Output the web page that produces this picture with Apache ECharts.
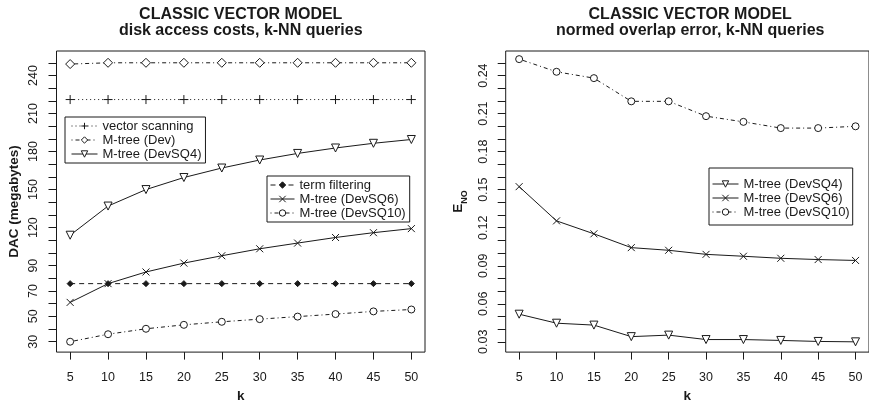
<!DOCTYPE html>
<html>
<head>
<meta charset="utf-8">
<script src="https://cdn.jsdelivr.net/npm/echarts@6/dist/echarts.min.js"></script>
<style>
html,body{margin:0;padding:0;background:#fff;}
#main{width:869px;height:408px;}
</style>
</head>
<body>
<div id="main"></div>
<script>
// ---- data ----
const ks = [5, 10, 15, 20, 25, 30, 35, 40, 45, 50];
const xTicks = [5, 10, 15, 20, 25, 30, 35, 40, 45, 50];

// left chart: DAC (megabytes)
const vectorScanning = [221, 221, 221, 221, 221, 221, 221, 221, 221, 221];
const mtreeDev = [249, 250, 250, 250, 250, 250, 250, 250, 250, 250];
const mtreeDevSQ4 = [114, 137, 150, 159.5, 167, 173.3, 178.5, 182.8, 186.5, 189.5];
const termFiltering = [75.8, 75.8, 75.8, 75.8, 75.8, 75.8, 75.8, 75.8, 75.8, 75.8];
const mtreeDevSQ6 = [61, 75.8, 85, 92, 97.8, 103.3, 107.8, 112.2, 116, 119.2];
const mtreeDevSQ10 = [30, 35.9, 40.2, 43.3, 45.7, 47.8, 49.8, 51.8, 53.9, 55.4];
const leftTicks = [30, 40, 50, 60, 70, 80, 90, 100, 110, 120, 130, 140, 150, 160, 170, 180, 190, 200, 210, 220, 230, 240, 250];
const leftLabels = [30, 50, 70, 90, 120, 150, 180, 210, 240];

// right chart: normed overlap error
const enoDevSQ4 = [0.0518, 0.0447, 0.0432, 0.0341, 0.0353, 0.0318, 0.0318, 0.0311, 0.0303, 0.0300];
const enoDevSQ6 = [0.1524, 0.1254, 0.1152, 0.1043, 0.1022, 0.0990, 0.0975, 0.0959, 0.0949, 0.0942];
const enoDevSQ10 = [0.253, 0.243, 0.238, 0.2197, 0.2197, 0.208, 0.2035, 0.1986, 0.1986, 0.200];
const rightTicks = [0.03, 0.04, 0.05, 0.06, 0.07, 0.08, 0.09, 0.10, 0.11, 0.12, 0.13, 0.14, 0.15, 0.16, 0.17, 0.18, 0.19, 0.20, 0.21, 0.22, 0.23, 0.24, 0.25];
const rightLabels = [0.03, 0.06, 0.09, 0.12, 0.15, 0.18, 0.21, 0.24];

// ---- styles ----
const FONT = '"Liberation Sans", Arial, Helvetica, sans-serif';
const INK = '#1a1a1a';
const pairs = (ys) => ks.map((k, i) => [k, ys[i]]);

const SYM = {
  plus: 'path://M5,0L5,10M0,5L10,5',
  cross: 'path://M0,0L10,10M0,10L10,0'
};

function mkSeries(name, data, idx, opts) {
  return {
    type: 'line',
    name: name,
    xAxisIndex: idx,
    yAxisIndex: idx,
    data: pairs(data),
    showAllSymbol: true,
    symbol: opts.symbol,
    symbolSize: opts.size,
    symbolRotate: opts.rotate || 0,
    lineStyle: { color: INK, width: 1, type: opts.dash || 'solid' },
    itemStyle: { color: opts.fill || '#fff', borderColor: INK, borderWidth: 1 },
    emphasis: { disabled: true },
    z: 3
  };
}

function xAxisCfg(idx) {
  return {
    type: 'value', gridIndex: idx, min: 3.2, max: 51.8,
    name: 'k', nameLocation: 'middle', nameGap: 32,
    nameTextStyle: { fontFamily: FONT, fontWeight: 'bold', fontSize: 13.5, color: INK },
    axisLine: { show: false },
    axisTick: { show: true, length: 7.5, inside: false, customValues: xTicks, lineStyle: { color: INK } },
    axisLabel: { customValues: xTicks, margin: 19, fontFamily: FONT, fontSize: 12.5, color: INK },
    splitLine: { show: false }
  };
}

const legendBase = {
  orient: 'vertical', itemGap: 0, itemHeight: 8, borderColor: INK, borderWidth: 1, borderRadius: 0,
  selectedMode: false, lineStyle: { width: 1 }, itemStyle: { borderWidth: 1 },
  textStyle: { fontFamily: FONT, fontSize: 13, lineHeight: 14, color: INK }
};

const option = {
  animation: false,
  backgroundColor: '#fff',
  title: [
    { text: 'CLASSIC VECTOR MODEL\ndisk access costs, k-NN queries', left: 240.75, top: 7, padding: 0, textAlign: 'center',
      textStyle: { fontFamily: FONT, fontWeight: 'bold', fontSize: 16, lineHeight: 16, color: INK } },
    { text: 'CLASSIC VECTOR MODEL\nnormed overlap error, k-NN queries', left: 690.2, top: 7, padding: 0, textAlign: 'center',
      textStyle: { fontFamily: FONT, fontWeight: 'bold', fontSize: 16, lineHeight: 16, color: INK } }
  ],
  grid: [
    { left: 56.5, top: 51, width: 368.5, height: 312.3, show: true, borderColor: INK, borderWidth: 1, backgroundColor: 'transparent' },
    { left: 505.7, top: 51, width: 369, height: 312.3, show: true, borderColor: INK, borderWidth: 1, backgroundColor: 'transparent' }
  ],
  xAxis: [xAxisCfg(0), xAxisCfg(1)],
  yAxis: [
    {
      type: 'value', gridIndex: 0, min: 21.8, max: 259.3,
      name: 'DAC (megabytes)', nameLocation: 'middle', nameRotate: 90, nameGap: 35,
      nameTextStyle: { fontFamily: FONT, fontWeight: 'bold', fontSize: 13.5, color: INK },
      axisLine: { show: false },
      axisTick: { show: true, length: 8, customValues: leftTicks, lineStyle: { color: INK } },
      axisLabel: { customValues: leftLabels, rotate: 90, margin: 16, fontFamily: FONT, fontSize: 12.5, color: INK },
      splitLine: { show: false }
    },
    {
      type: 'value', gridIndex: 1, min: 0.0219, max: 0.2594,
      name: '{e|E}{s|NO}', nameLocation: 'middle', nameRotate: 90, nameGap: 40,
      nameTextStyle: { fontFamily: FONT, fontWeight: 'bold', color: INK,
        rich: { e: { fontFamily: FONT, fontWeight: 'bold', fontSize: 13.5, color: INK, verticalAlign: 'bottom' },
                s: { fontFamily: FONT, fontWeight: 'bold', fontSize: 9, color: INK, verticalAlign: 'bottom', padding: [0, 0, -3, 0] } } },
      axisLine: { show: false },
      axisTick: { show: true, length: 8, customValues: rightTicks, lineStyle: { color: INK } },
      axisLabel: { customValues: rightLabels, rotate: 90, margin: 16, fontFamily: FONT, fontSize: 12.5, color: INK,
        formatter: (v) => v.toFixed(2) },
      splitLine: { show: false }
    }
  ],
  legend: [
    Object.assign({}, legendBase, { data: ['vector scanning', 'M-tree (Dev)', 'M-tree (DevSQ4)'], left: 65, top: 117,
      padding: [2, 4, 2, 6], itemWidth: 26 }),
    Object.assign({}, legendBase, { data: ['term filtering', 'M-tree (DevSQ6)', 'M-tree (DevSQ10)'], left: 267, top: 176,
      padding: [2, 4, 2, 3], itemWidth: 24 }),
    Object.assign({}, legendBase, { data: ['M-tree (DevSQ4)', 'M-tree (DevSQ6)', 'M-tree (DevSQ10)'], left: 709, top: 168,
      padding: [9, 3, 6, 3], itemWidth: 26 })
  ],
  series: [
    mkSeries('vector scanning', vectorScanning, 0, { symbol: SYM.plus, size: 9, dash: [1, 3] }),
    mkSeries('M-tree (Dev)', mtreeDev, 0, { symbol: 'diamond', size: 9, dash: [1, 3, 4, 3] }),
    mkSeries('M-tree (DevSQ4)', mtreeDevSQ4, 0, { symbol: 'triangle', size: 8, rotate: 180 }),
    mkSeries('term filtering', termFiltering, 0, { symbol: 'diamond', size: 6, fill: INK, dash: [5, 4] }),
    mkSeries('M-tree (DevSQ6)', mtreeDevSQ6, 0, { symbol: SYM.cross, size: 7 }),
    mkSeries('M-tree (DevSQ10)', mtreeDevSQ10, 0, { symbol: 'circle', size: 7, dash: [1, 3, 4, 3] }),
    mkSeries('M-tree (DevSQ4)', enoDevSQ4, 1, { symbol: 'triangle', size: 8, rotate: 180 }),
    mkSeries('M-tree (DevSQ6)', enoDevSQ6, 1, { symbol: SYM.cross, size: 7 }),
    mkSeries('M-tree (DevSQ10)', enoDevSQ10, 1, { symbol: 'circle', size: 7, dash: [1, 3, 4, 3] })
  ]
};

const chart = echarts.init(document.getElementById('main'), null, { renderer: 'canvas' });
chart.setOption(option);
</script>
</body>
</html>
